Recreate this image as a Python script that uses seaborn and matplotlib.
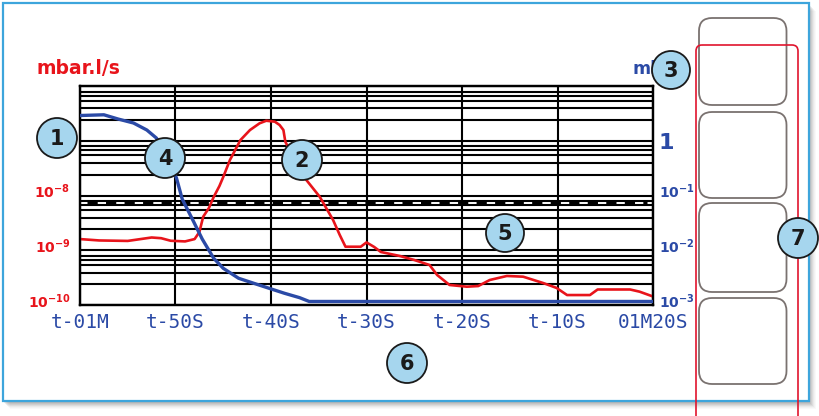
import matplotlib
matplotlib.use("Agg")
import matplotlib.pyplot as plt
from matplotlib.patches import Circle, FancyBboxPatch, Rectangle
from matplotlib.ticker import LogLocator, NullFormatter, NullLocator
from matplotlib.transforms import ScaledTranslation
import seaborn as sns

# --- Data ---
# leak rate (red, left axis, mbar.l/s) against time in seconds
leak_time = [-60, -58, -55, -52.5, -51.5, -50.5, -49, -48, -47.5, -47.1, -46.5,
             -46.0, -45.4, -45.0, -44.3, -43.2, -42.2, -41.2, -40.5, -39.6, -39.1,
             -38.7, -38.5, -37.8, -37.0, -36.3, -34.9, -33.5, -32.8, -32.2, -30.6,
             -30.0, -29.2, -28.5, -26.5, -25.0, -23.4, -22.6, -21.3, -19.5, -18.3,
             -17.1, -15.3, -13.6, -11.5, -10.1, -9.0, -6.6, -5.8, -2.4, -1.4, 0]
leak_rate = [1.60e-9, 1.51e-9, 1.48e-9, 1.71e-9, 1.66e-9, 1.49e-9, 1.45e-9, 1.60e-9,
             2.15e-9, 4.10e-9, 5.92e-9, 9.40e-9, 1.49e-8, 2.18e-8, 4.45e-8, 1.03e-7,
             1.57e-7, 2.08e-7, 2.32e-7, 2.23e-7, 1.94e-7, 1.57e-7, 9.6e-8, 5.5e-8,
             3.18e-8, 1.92e-8, 9.5e-9, 3.57e-9, 1.90e-9, 1.16e-9, 1.16e-9, 1.39e-9,
             1.15e-9, 9.3e-10, 7.85e-10, 6.64e-10, 5.38e-10, 3.53e-10, 2.32e-10,
             2.16e-10, 2.22e-10, 2.86e-10, 3.39e-10, 3.29e-10, 2.52e-10, 2.05e-10,
             1.52e-10, 1.52e-10, 1.92e-10, 1.92e-10, 1.75e-10, 1.43e-10]

# inlet pressure (blue, right axis, mbar)
pressure_time = [-60, -57.5, -56, -54.4, -53.0, -52.0, -51.2, -50.5, -49.9, -49.3,
                 -48.1, -47.2, -46.0, -45.0, -43.4, -41.8, -40.2, -38.6, -37.0, -36.0, 0]
pressure = [2.89, 2.98, 2.49, 2.11, 1.57, 1.12, 0.678, 0.36, 0.209, 0.0863,
            0.0332, 0.0160, 0.00713, 0.00468, 0.00308, 0.00249, 0.00202, 0.00164,
            0.00136, 0.00116, 0.00116]

threshold_rate = 7.5e-9

time_ticks = [-60, -50, -40, -30, -20, -10, 0]
time_labels = ["t-01M", "t-50S", "t-40S", "t-30S", "t-20S", "t-10S", "01M20S"]
left_ticks = [1e-10, 1e-9, 1e-8, 1e-7]
left_labels = [r"$\mathbf{10^{-10}}$", r"$\mathbf{10^{-9}}$", r"$\mathbf{10^{-8}}$", r"$\mathbf{10^{-7}}$"]
right_ticks = [1e-3, 1e-2, 1e-1, 1]
right_labels = [r"$\mathbf{10^{-3}}$", r"$\mathbf{10^{-2}}$", r"$\mathbf{10^{-1}}$", "1"]
callout_labels = ["1", "2", "3", "4", "5", "6", "7"]

RED = "#e8141b"
BLUE = "#2b4aa6"
W, H = 819, 416

sns.set_theme(style="white")
plt.rcParams["font.family"] = ["DejaVu Sans"]

fig = plt.figure(figsize=(W / 100, H / 100), dpi=100)
fig.patch.set_facecolor("white")

# --- background: screen frame with drop shadow ---
bg = fig.add_axes([0, 0, 1, 1], zorder=-1)
bg.set_xlim(0, W)
bg.set_ylim(H, 0)
bg.axis("off")
for i, a in enumerate([0.10, 0.10, 0.09, 0.08, 0.06, 0.04, 0.03]):
    bg.add_patch(Rectangle((3 + i + 1, 3 + i + 2), 806, 398, facecolor="#555555",
                           edgecolor="none", alpha=a))
bg.add_patch(Rectangle((3, 3), 806, 398, facecolor="white", edgecolor="#3da5dc", lw=1.6))

# --- main chart ---
ax = fig.add_axes([80 / W, (H - 305) / H, 573 / W, 219 / H], zorder=1)
ax.set_facecolor("white")
ax.set_yscale("log")
ax.set_xlim(-60, 0)
ax.set_ylim(1e-10, 1e-6)
ax2 = ax.twinx()
ax2.set_yscale("log")
ax2.set_ylim(1e-3, 1e1)

sns.lineplot(x=leak_time, y=leak_rate, ax=ax, color=RED, lw=1.9, zorder=3)
ax.axhline(threshold_rate, xmin=0.012, xmax=0.99, color="black", lw=2.3,
           dashes=(3.2, 2.6), zorder=2)
sns.lineplot(x=pressure_time, y=pressure, ax=ax2, color=BLUE, lw=2.4, zorder=3)

ax.set_xlabel("")
ax.set_ylabel("")
ax2.set_ylabel("")
ax2.yaxis.set_minor_locator(NullLocator())

# screen grid: decades plus a few sub-lines each
ax.set_yticks(left_ticks, labels=left_labels)
ax.yaxis.set_minor_locator(LogLocator(base=10, subs=[1.0, 2.4, 3.9, 5.4, 6.7, 7.9], numticks=20))
ax.yaxis.set_minor_formatter(NullFormatter())
ax.grid(which="both", axis="y", color="black", lw=1.5)
ax.set_xticks(time_ticks, labels=time_labels)
ax.grid(which="major", axis="x", color="black", lw=1.5)
ax.set_axisbelow(True)
ax2.set_yticks(right_ticks, labels=right_labels)

ax.tick_params(axis="y", which="both", length=0, pad=7, labelsize=10, labelcolor=RED)
ax2.tick_params(axis="y", which="both", length=0, pad=4, labelsize=10, labelcolor=BLUE)
ax.tick_params(axis="x", length=0, pad=6, labelsize=14, labelcolor=BLUE)
for lab in ax.get_xticklabels():
    lab.set_family("DejaVu Sans Mono")
ax2.get_yticklabels()[-1].set_fontsize(16)
ax2.get_yticklabels()[-1].set_fontweight("bold")

# labels on the screen sit a few pixels above their lines
lift = ScaledTranslation(0, 5 / 100, fig.dpi_scale_trans)
for lab in ax.get_yticklabels() + ax2.get_yticklabels()[:-1]:
    lab.set_transform(lab.get_transform() + lift)

for a in (ax, ax2):
    for s in a.spines.values():
        s.set_color("black")
        s.set_linewidth(1.6)

# --- foreground: axis units, side buttons, callouts ---
fg = fig.add_axes([0, 0, 1, 1], zorder=10)
fg.set_xlim(0, W)
fg.set_ylim(H, 0)
fg.axis("off")
fg.patch.set_alpha(0)

# unit labels sit under the callout circles
fg.text(36, 69, "mbar.l/s", color=RED, fontsize=13.5, fontweight="bold",
        va="center", ha="left", zorder=0.5)
fg.text(633, 69, "mbar", color=BLUE, fontsize=12.5, fontweight="bold",
        va="center", ha="left", zorder=0.5)

for top, bot in [(18, 105), (112, 198), (203, 292), (298, 384)]:
    fg.add_patch(FancyBboxPatch((699, top), 87.5, bot - top,
                                boxstyle="round,pad=0,rounding_size=13",
                                facecolor="white", edgecolor="#7a7270", lw=1.3))
fg.add_patch(FancyBboxPatch((696, 45), 102, 400, boxstyle="round,pad=0,rounding_size=6",
                            facecolor="none", edgecolor="#e0142e", lw=1.2))

centers = [(57, 138, 20), (302, 160, 20), (671, 70, 19), (165, 158, 20),
           (505, 233, 19), (407, 363, 20), (798, 238, 20)]
for (cx, cy, r), lab in zip(centers, callout_labels):
    fg.add_patch(Circle((cx, cy), r, facecolor="#a6d6ee", edgecolor="#1a1a1a",
                        lw=1.3, zorder=2))
    fg.text(cx, cy + 1, lab, ha="center", va="center", fontsize=15,
            fontweight="bold", color="#1a1a1a", zorder=3)

plt.savefig("out.png", dpi=100)
